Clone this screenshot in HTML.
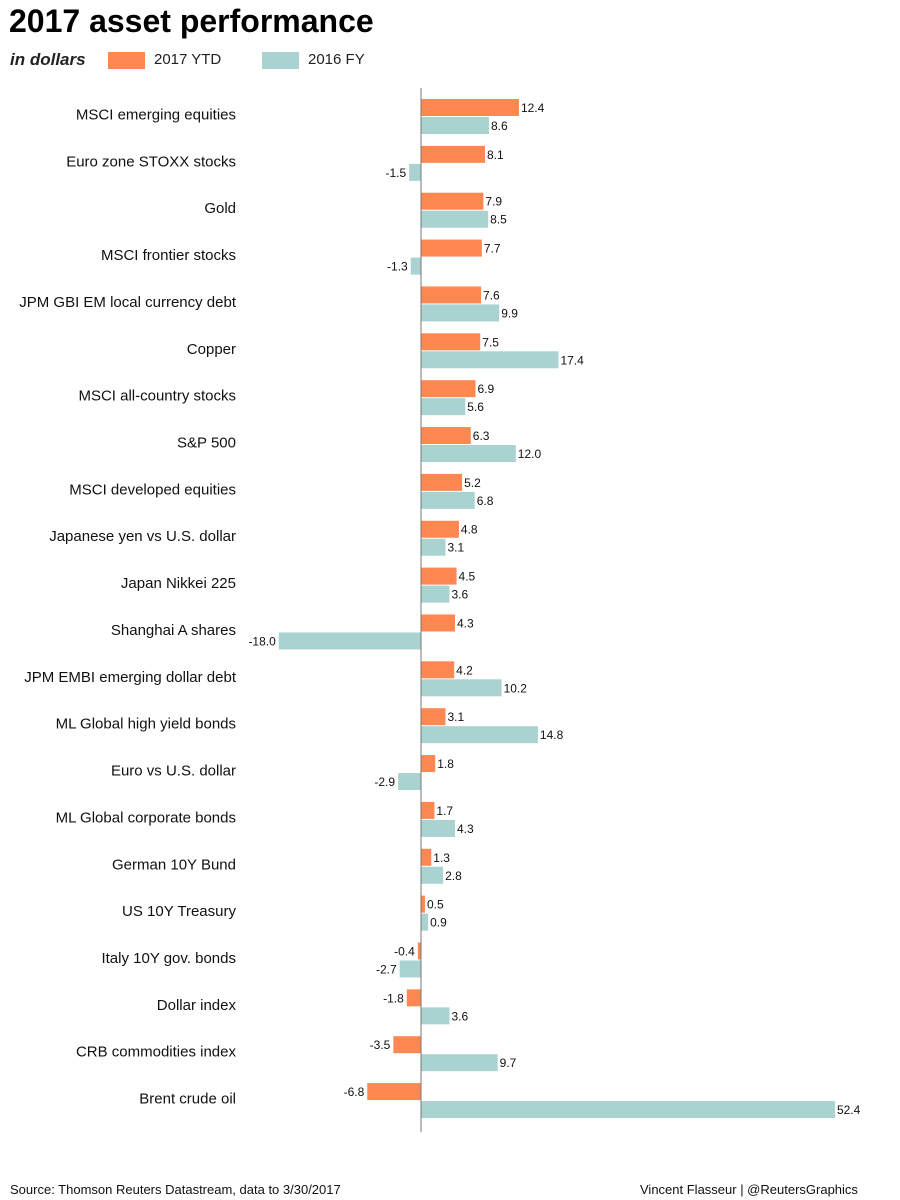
<!DOCTYPE html>
<html><head><meta charset="utf-8"><style>
body{margin:0;background:#fff;font-family:"Liberation Sans",Arial,sans-serif;}
#wrap{position:relative;width:900px;height:1200px;overflow:hidden;}
.t{position:absolute;white-space:nowrap;}
</style></head><body>
<div id="wrap">
<div class="t" style="left:9px;top:3px;font-size:32px;font-weight:bold;color:#000">2017 asset performance</div>
<div class="t" style="left:10px;top:50px;font-size:17px;font-style:italic;font-weight:bold;color:#222">in dollars</div>
<div class="t" style="left:108px;top:52px;width:37px;height:17px;background:#ff8752"></div>
<div class="t" style="left:154px;top:51px;font-size:15px;color:#222">2017 YTD</div>
<div class="t" style="left:262px;top:52px;width:37px;height:17px;background:#aad2d0"></div>
<div class="t" style="left:308px;top:51px;font-size:15px;color:#222">2016 FY</div>
<svg id="svg" width="900" height="1200" style="position:absolute;left:0;top:0"></svg>
<div class="t" style="left:10px;top:1182px;font-size:13px;color:#111">Source: Thomson Reuters Datastream, data to 3/30/2017</div>
<div class="t" style="left:640px;top:1182px;font-size:13px;color:#111">Vincent Flasseur | @ReutersGraphics</div>
</div>
<script>
const categories=["MSCI emerging equities","Euro zone STOXX stocks","Gold","MSCI frontier stocks","JPM GBI EM local currency debt","Copper","MSCI all-country stocks","S&P 500","MSCI developed equities","Japanese yen vs U.S. dollar","Japan Nikkei 225","Shanghai A shares","JPM EMBI emerging dollar debt","ML Global high yield bonds","Euro vs U.S. dollar","ML Global corporate bonds","German 10Y Bund","US 10Y Treasury","Italy 10Y gov. bonds","Dollar index","CRB commodities index","Brent crude oil"];
const ytd2017=[12.4,8.1,7.9,7.7,7.6,7.5,6.9,6.3,5.2,4.8,4.5,4.3,4.2,3.1,1.8,1.7,1.3,0.5,-0.4,-1.8,-3.5,-6.8];
const fy2016=[8.6,-1.5,8.5,-1.3,9.9,17.4,5.6,12.0,6.8,3.1,3.6,-18.0,10.2,14.8,-2.9,4.3,2.8,0.9,-2.7,3.6,9.7,52.4];
const NS="http://www.w3.org/2000/svg";
const svg=document.getElementById('svg');
const x0=421,k=7.9;
function xs(v){return x0+v*k;}
function yc(i){return 116.5+i*46.86;}
function mk(tag,a){const e=document.createElementNS(NS,tag);for(const n in a)e.setAttribute(n,a[n]);svg.appendChild(e);return e;}
function bar(v,y,col,nm){
  const r=mk('rect',{x:Math.min(xs(v),x0),y:y,width:Math.abs(xs(v)-x0),height:17,fill:col});
  
  
  const t=mk('text',{x:v>=0?xs(v)+2:xs(v)-3,y:y+13,'font-size':12,'text-anchor':v>=0?'start':'end',fill:'#111','font-family':'Liberation Sans, sans-serif'});
  t.textContent=v.toFixed(1);
  
  
}
categories.forEach((c,i)=>{
  const y=yc(i);
  const l=mk('text',{x:236,y:y+3,'font-size':15,'text-anchor':'end',fill:'#111','font-family':'Liberation Sans, sans-serif'});
  l.textContent=c;
  
  
  bar(ytd2017[i],y-17.5,'#ff8752','bar-2017');
  bar(fy2016[i],y+0.5,'#aad2d0','bar-2016');
});
const ax=mk('line',{x1:x0,x2:x0,y1:88,y2:1132,stroke:'#777','stroke-width':1});


</script>
</body></html>
